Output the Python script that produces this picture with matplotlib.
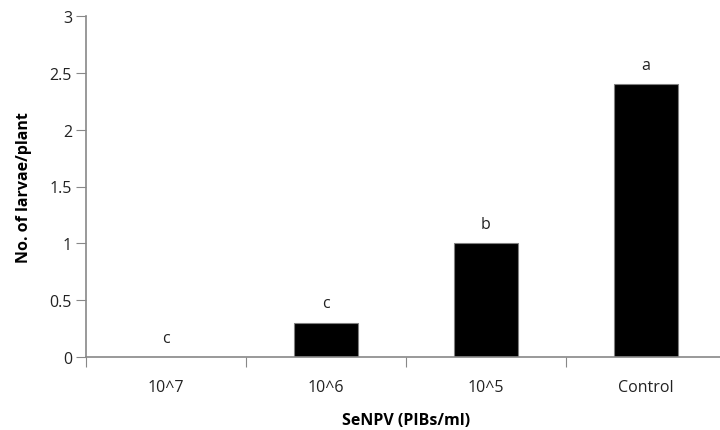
import matplotlib
matplotlib.use("Agg")
import matplotlib.pyplot as plt

# SeNPV concentration vs larvae per plant
doses = ["10^7", "10^6", "10^5", "Control"]
larvae = [0.0, 0.3, 1.0, 2.4]
letters = ["c", "c", "b", "a"]

plt.rcParams['font.family'] = ['Open Sans', 'DejaVu Sans']

fig = plt.figure(figsize=(7.2, 4.31), dpi=100)
# axes placed in pixels: left spine x=86, y0 at 358, y3 at 17, last category ends past the right edge
ax = fig.add_axes([86 / 720, (431 - 358) / 431, 640 / 720, (358 - 17) / 431])

x = range(len(doses))
ax.bar(x, larvae, width=0.4, color="black", edgecolor="#808080", linewidth=0.8)

for i, (v, s) in enumerate(zip(larvae, letters)):
    ax.annotate(s, (i, v), xytext=(0, 14), textcoords="offset points",
                ha="center", va="center", fontsize=11.5, color="#222222")

ax.set_xlim(-0.5, 3.5)
ax.set_ylim(0, 3)
ax.set_yticks([0, 0.5, 1, 1.5, 2, 2.5, 3])
ax.set_yticklabels(["0", "0.5", "1", "1.5", "2", "2.5", "3"])
ax.set_xticks([-0.5, 0.5, 1.5, 2.5, 3.5])
ax.set_xticklabels([])
ax.set_xticks(list(x), minor=True)
ax.set_xticklabels(doses, minor=True)
ax.tick_params(axis="x", which="minor", length=0, pad=16, labelsize=11.5, labelcolor="#222222")
ax.tick_params(axis="x", which="major", length=7, color="#888888", direction="out")
ax.tick_params(axis="y", length=7, color="#888888", labelsize=11.5, labelcolor="#222222", pad=3)

for side in ["top", "right"]:
    ax.spines[side].set_visible(False)
for side in ["left", "bottom"]:
    ax.spines[side].set_color("#888888")
    ax.spines[side].set_linewidth(1.2)

ax.set_xlabel("SeNPV (PIBs/ml)", fontsize=11.5, fontweight="bold", labelpad=12)
ax.set_ylabel("No. of larvae/plant", fontsize=11.5, fontweight="bold", labelpad=13)

fig.savefig("out.png", dpi=100)
